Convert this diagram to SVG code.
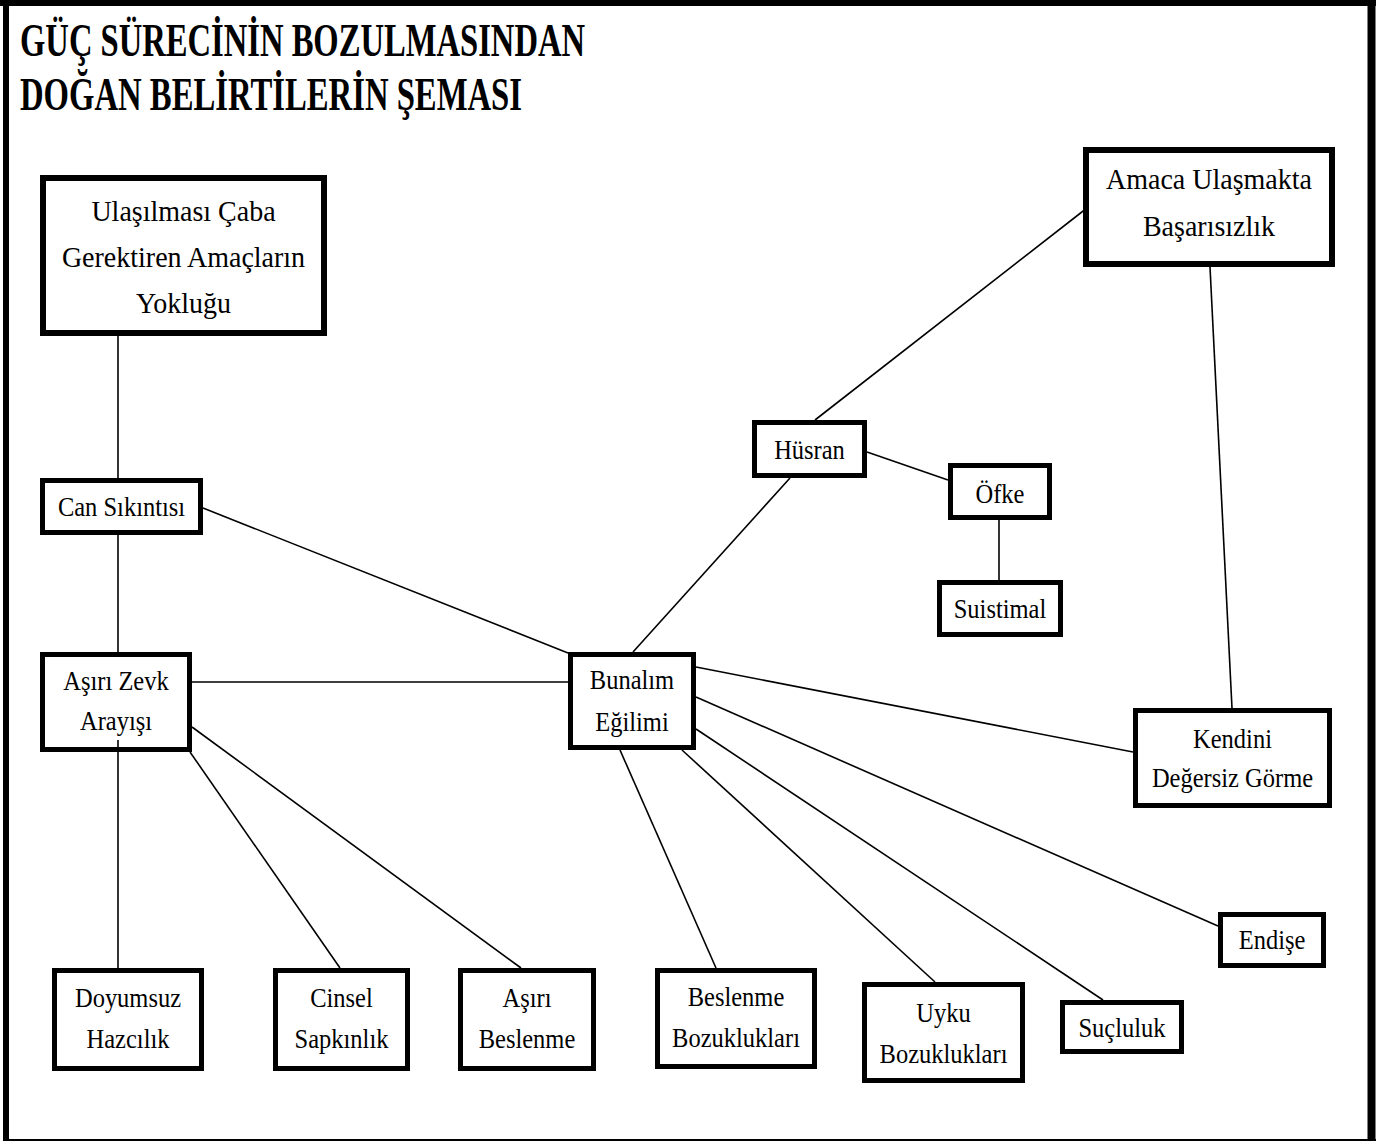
<svg xmlns="http://www.w3.org/2000/svg" width="1380" height="1142" viewBox="0 0 1380 1142">
<style>
.box{fill:#fff;stroke:#000;stroke-width:5}
.big{stroke-width:6}
.t{font-family:"Liberation Serif","Times New Roman",serif;font-size:24.5px;fill:#000;text-anchor:middle}
.tb{font-size:28px}
.title{font-family:"Liberation Serif","Times New Roman",serif;font-weight:bold;font-size:46px;fill:#000}
.c line{stroke:#000;stroke-width:1.6}
</style>
<rect x="0" y="0" width="1380" height="1142" fill="#fff"/>
<g id="frame">
<line x1="0" y1="3" x2="1376" y2="3" stroke="#000" stroke-width="6"/>
<line x1="6" y1="0" x2="6" y2="1141" stroke="#000" stroke-width="6"/>
<line x1="1371.5" y1="0" x2="1371.5" y2="1141" stroke="#000" stroke-width="8"/>
<line x1="3" y1="1140" x2="1376" y2="1140" stroke="#000" stroke-width="2"/>
</g>
<g id="title">
<text class="title" x="20" y="56" textLength="565" lengthAdjust="spacingAndGlyphs">GÜÇ SÜRECİNİN BOZULMASINDAN</text>
<text class="title" x="20" y="110" textLength="502" lengthAdjust="spacingAndGlyphs">DOĞAN BELİRTİLERİN ŞEMASI</text>
</g>
<g id="n-amac">
<rect class="box big" x="43" y="178" width="281" height="155"/>
<text class="t tb" transform="translate(183.5 221) scale(1 1.08)">Ulaşılması Çaba</text>
<text class="t tb" transform="translate(183.5 267) scale(1 1.08)">Gerektiren Amaçların</text>
<text class="t tb" transform="translate(183.5 313) scale(1 1.08)">Yokluğu</text>
</g>
<g id="n-can">
<rect class="box" x="42.5" y="480.5" width="158" height="52"/>
<text class="t" transform="translate(121.5 516) scale(1 1.15)">Can Sıkıntısı</text>
</g>
<g id="n-zevk">
<rect class="box" x="42.5" y="654.5" width="147" height="95"/>
<text class="t" transform="translate(116 690) scale(1 1.15)">Aşırı Zevk</text>
<text class="t" transform="translate(116 730) scale(1 1.15)">Arayışı</text>
</g>
<g id="n-bunalim">
<rect class="box" x="570.5" y="654.5" width="123" height="93"/>
<text class="t" transform="translate(632 689) scale(1 1.15)">Bunalım</text>
<text class="t" transform="translate(632 731) scale(1 1.15)">Eğilimi</text>
</g>
<g id="n-basarisizlik">
<rect class="box big" x="1086" y="150" width="246" height="114"/>
<text class="t tb" transform="translate(1209 189) scale(1 1.08)">Amaca Ulaşmakta</text>
<text class="t tb" transform="translate(1209 236) scale(1 1.08)">Başarısızlık</text>
</g>
<g id="n-husran">
<rect class="box" x="754.5" y="422.5" width="110" height="53"/>
<text class="t" transform="translate(809.5 459) scale(1 1.15)">Hüsran</text>
</g>
<g id="n-ofke">
<rect class="box" x="950.5" y="465.5" width="99" height="52"/>
<text class="t" transform="translate(1000 503) scale(1 1.15)">Öfke</text>
</g>
<g id="n-suistimal">
<rect class="box" x="939.5" y="582.5" width="121" height="52"/>
<text class="t" transform="translate(1000 618) scale(1 1.15)">Suistimal</text>
</g>
<g id="n-kendini">
<rect class="box" x="1135.5" y="710.5" width="194" height="95"/>
<text class="t" transform="translate(1232.5 748) scale(1 1.15)">Kendini</text>
<text class="t" transform="translate(1232.5 787) scale(1 1.15)">Değersiz Görme</text>
</g>
<g id="n-endise">
<rect class="box" x="1220.5" y="914.5" width="103" height="51"/>
<text class="t" transform="translate(1272 949) scale(1 1.15)">Endişe</text>
</g>
<g id="n-doyumsuz">
<rect class="box" x="54.5" y="970.5" width="147" height="98"/>
<text class="t" transform="translate(128 1007) scale(1 1.15)">Doyumsuz</text>
<text class="t" transform="translate(128 1048) scale(1 1.15)">Hazcılık</text>
</g>
<g id="n-cinsel">
<rect class="box" x="275.5" y="970.5" width="132" height="98"/>
<text class="t" transform="translate(341.5 1007) scale(1 1.15)">Cinsel</text>
<text class="t" transform="translate(341.5 1048) scale(1 1.15)">Sapkınlık</text>
</g>
<g id="n-asiri-beslenme">
<rect class="box" x="460.5" y="970.5" width="133" height="98"/>
<text class="t" transform="translate(527 1007) scale(1 1.15)">Aşırı</text>
<text class="t" transform="translate(527 1048) scale(1 1.15)">Beslenme</text>
</g>
<g id="n-beslenme">
<rect class="box" x="657.5" y="970.5" width="157" height="96"/>
<text class="t" transform="translate(736 1006) scale(1 1.15)">Beslenme</text>
<text class="t" transform="translate(736 1047) scale(1 1.15)">Bozuklukları</text>
</g>
<g id="n-uyku">
<rect class="box" x="864.5" y="984.5" width="158" height="96"/>
<text class="t" transform="translate(943.5 1022) scale(1 1.15)">Uyku</text>
<text class="t" transform="translate(943.5 1063) scale(1 1.15)">Bozuklukları</text>
</g>
<g id="n-sucluluk">
<rect class="box" x="1062.5" y="1002.5" width="119" height="49"/>
<text class="t" transform="translate(1122 1037) scale(1 1.15)">Suçluluk</text>
</g>
<g id="connectors" class="c">
<line x1="118" y1="336" x2="118" y2="478"/>
<line x1="118" y1="535" x2="118" y2="652"/>
<line x1="118" y1="740" x2="118" y2="968"/>
<line x1="190" y1="752" x2="340" y2="968"/>
<line x1="192" y1="727" x2="521" y2="968"/>
<line x1="192" y1="682" x2="568" y2="682"/>
<line x1="203" y1="508" x2="568" y2="653"/>
<line x1="633" y1="652" x2="790" y2="478"/>
<line x1="815" y1="420" x2="1087" y2="208"/>
<line x1="867" y1="452" x2="948" y2="480"/>
<line x1="999" y1="520" x2="999" y2="580"/>
<line x1="1210" y1="267" x2="1232" y2="708"/>
<line x1="696" y1="667" x2="1133" y2="752"/>
<line x1="696" y1="697" x2="1218" y2="926"/>
<line x1="696" y1="729" x2="1103" y2="1000"/>
<line x1="682" y1="750" x2="935" y2="982"/>
<line x1="620" y1="750" x2="716" y2="968"/>
</g>
</svg>
